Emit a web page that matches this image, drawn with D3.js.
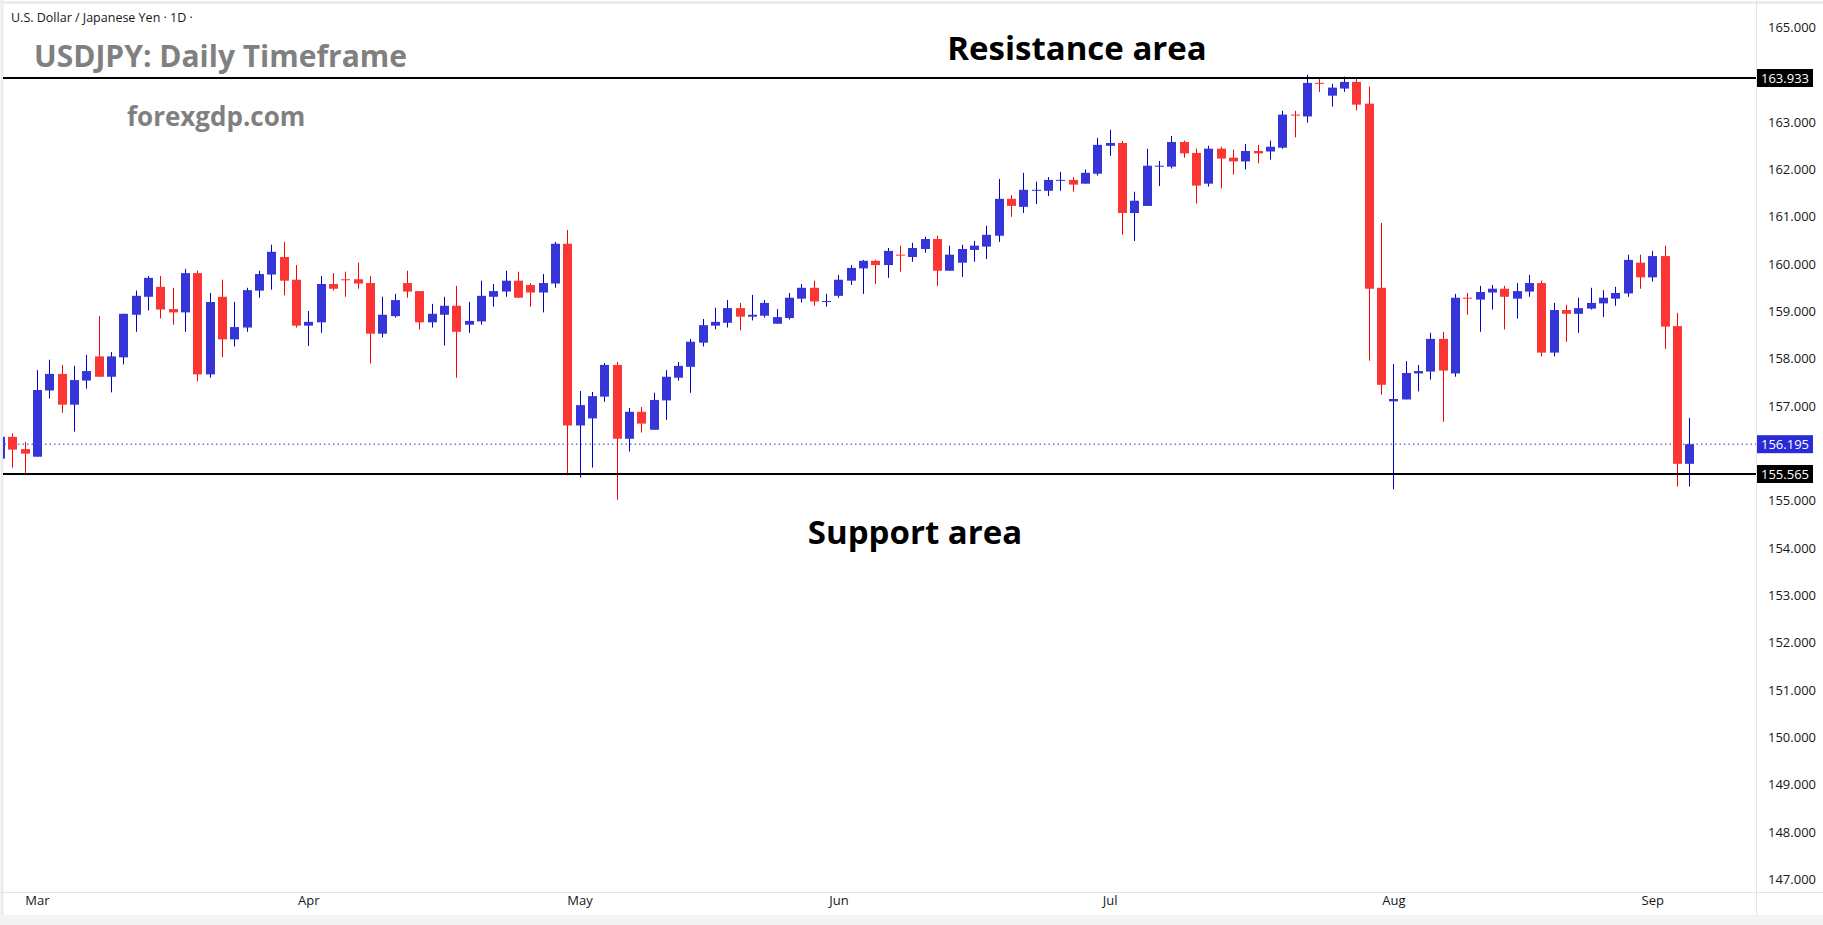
<!DOCTYPE html>
<html><head><meta charset="utf-8">
<script src="https://cdn.jsdelivr.net/npm/d3@7"></script>
<style>body{margin:0;background:#fff;}svg{display:block;font-family:"Open Sans",sans-serif;}</style>
</head><body><svg id="c" width="1823" height="925"></svg>
<script>
// OHLC [open, high, low, close], index -1 is the partially visible first candle
const opens =  [155.89,156.35,156.09,155.93,157.33,157.68,157.03,157.54,158.05,157.62,158.03,158.93,159.31,159.52,159.05,158.98,159.81,157.67,159.31,158.41,158.66,159.44,159.78,160.15,159.67,158.70,158.77,159.58,159.68,159.68,159.60,158.53,158.90,159.60,159.43,158.77,158.93,159.12,158.72,158.79,159.31,159.42,159.65,159.56,159.40,159.59,160.43,156.59,156.74,157.20,157.87,156.31,156.88,156.50,157.12,157.60,157.83,158.34,158.70,158.76,159.07,158.89,158.91,158.74,158.86,159.27,159.50,159.21,159.33,159.65,159.91,160.07,159.98,160.20,160.15,160.32,160.53,159.86,160.03,160.30,160.37,160.60,161.38,161.21,161.56,161.55,161.77,161.78,161.70,161.91,162.50,162.56,161.08,161.23,162.06,162.06,162.58,162.35,161.70,162.44,162.25,162.17,162.39,162.38,162.46,163.16,163.12,163.83,163.56,163.71,163.85,163.39,159.50,157.10,157.14,157.69,157.73,158.42,157.69,159.29,159.25,159.40,159.48,159.27,159.42,159.60,158.13,159.03,158.95,159.06,159.17,159.27,159.38,160.03,159.72,160.17,158.69,155.78];
const highs =  [156.40,156.425,156.24,157.76,157.98,157.87,157.85,158.08,158.90,158.14,158.95,159.44,159.75,159.75,159.50,159.90,159.86,159.39,159.67,159.20,159.50,159.86,160.41,160.47,159.98,159.01,159.75,159.81,159.84,160.03,159.75,159.31,159.37,159.86,159.43,159.16,159.31,159.54,159.20,159.65,159.58,159.86,159.84,159.60,159.79,160.47,160.72,157.32,157.30,157.91,157.93,156.96,156.98,157.28,157.76,157.93,158.42,158.84,159.08,159.24,159.18,159.35,159.24,159.05,159.39,159.58,159.65,159.37,159.77,159.98,160.09,160.09,160.34,160.39,160.45,160.58,160.60,160.39,160.41,160.49,160.81,161.80,161.46,161.93,161.74,161.84,161.95,161.84,162.00,162.67,162.84,162.60,161.53,162.44,162.18,162.71,162.61,162.44,162.50,162.48,162.42,162.54,162.52,162.61,163.24,163.24,164.00,163.94,163.81,163.96,163.92,163.75,160.87,157.89,157.95,157.87,158.55,158.57,159.37,159.39,159.54,159.56,159.54,159.60,159.77,159.65,159.18,159.14,159.29,159.50,159.45,159.52,160.20,160.20,160.28,160.39,158.97,156.75];
const lows =   [155.80,155.70,155.54,155.93,157.16,156.86,156.46,157.37,157.62,157.29,157.88,158.57,159.02,158.85,158.72,158.57,157.52,157.60,158.03,158.26,158.57,159.29,159.46,159.34,158.66,158.27,158.55,159.44,159.31,159.48,157.90,158.45,158.87,159.29,158.62,158.66,158.28,157.60,158.55,158.72,159.10,159.31,159.29,159.10,158.98,159.50,155.54,155.49,155.70,157.09,155.02,156.04,156.44,156.50,156.71,157.54,157.28,158.26,158.62,158.66,158.60,158.81,158.87,158.74,158.83,159.19,159.12,159.10,159.29,159.56,159.37,159.58,159.71,159.84,160.05,160.24,159.54,159.86,159.73,160.05,160.11,160.47,161.00,161.08,161.27,161.44,161.55,161.53,161.70,161.87,162.29,160.62,160.49,161.23,161.65,162.02,162.25,161.28,161.64,161.60,161.89,162.00,162.13,162.21,162.44,162.68,162.99,163.64,163.33,163.64,163.25,157.96,157.24,155.24,157.14,157.31,157.56,156.67,157.62,158.93,158.57,159.04,158.62,158.85,159.31,158.05,158.05,158.36,158.55,159.04,158.88,159.12,159.31,159.48,159.63,158.21,155.30,155.30];
const closes = [156.35,156.08,155.995,157.34,157.68,157.03,157.55,157.74,157.62,158.05,158.95,159.33,159.71,159.04,158.98,159.81,157.67,159.20,158.41,158.67,159.45,159.79,160.26,159.65,158.70,158.78,159.58,159.48,159.67,159.59,158.53,158.93,159.24,159.42,158.77,158.95,159.12,158.57,158.80,159.33,159.43,159.65,159.29,159.40,159.60,160.43,156.59,157.02,157.21,157.87,156.31,156.88,156.63,157.13,157.62,157.85,158.36,158.71,158.78,159.07,158.89,158.93,159.18,158.88,159.29,159.50,159.21,159.22,159.67,159.92,160.07,159.98,160.28,160.18,160.34,160.53,159.86,160.20,160.32,160.39,160.62,161.38,161.23,161.57,161.57,161.78,161.78,161.68,161.93,162.52,162.56,161.08,161.34,162.08,162.08,162.58,162.34,161.66,162.44,162.23,162.17,162.39,162.34,162.48,163.16,163.14,163.83,163.82,163.73,163.85,163.37,159.48,157.45,157.15,157.70,157.74,158.42,157.75,159.29,159.27,159.41,159.48,159.31,159.43,159.60,158.13,159.03,158.95,159.07,159.18,159.29,159.39,160.09,159.72,160.17,158.68,155.78,156.195];
const firstIndex = -1;
const months = [["Mar",2],["Apr",24],["May",46],["Jun",67],["Jul",89],["Aug",112],["Sep",133]];
const yTicks = [147,148,149,150,151,152,153,154,155,157,158,159,160,161,162,163,165];
const resistance = 163.933, support = 155.565, lastPrice = 156.195;

const svg = d3.select("#c");
const W = 1823, H = 925, plotR = 1756, plotB = 892;
const x = d3.scaleLinear().domain([0,136]).range([12.3,1689.3]);
const y = d3.scaleLinear().domain([support,resistance]).range([474,78]);
const data = opens.map((o,k)=>({i:k+firstIndex,o,h:highs[k],l:lows[k],c:closes[k]}));

svg.append("rect").attr("x",0).attr("y",0).attr("width",W).attr("height",H).attr("fill","#fff");
svg.append("rect").attr("x",0).attr("y",915).attr("width",W).attr("height",10).attr("fill","#f3f3f5");
svg.append("line").attr("x1",0).attr("x2",W).attr("y1",2.5).attr("y2",2.5).attr("stroke","#ececef").attr("stroke-width",3);
svg.append("line").attr("x1",2).attr("x2",2).attr("y1",0).attr("y2",915).attr("stroke","#ececef").attr("stroke-width",3);

const plot = svg.append("g");
plot.append("clipPath").attr("id","clip").append("rect").attr("x",3).attr("y",0).attr("width",plotR-3).attr("height",plotB);
const g = plot.append("g").attr("clip-path","url(#clip)");

g.append("line").attr("x1",0).attr("x2",plotR).attr("y1",y(lastPrice)).attr("y2",y(lastPrice))
  .attr("stroke","#2a2ad6").attr("stroke-width",1).attr("stroke-dasharray","1.5,3");

const up = "#3535d8", dn = "#fc3535";
data.forEach(d=>{
  const bull = d.c >= d.o;
  const cx = Math.round(x(d.i))+0.5;
  g.append("line").attr("x1",cx).attr("x2",cx).attr("y1",y(d.h)).attr("y2",y(d.l))
    .attr("stroke", bull?"#0000cc":"#f00").attr("stroke-width",1);
  const top = y(Math.max(d.o,d.c)), bot = y(Math.min(d.o,d.c));
  g.append("rect").attr("x",cx-4.5).attr("y",top).attr("width",9).attr("height",Math.max(1,bot-top))
    .attr("fill", bull?up:dn);
});

[resistance,support].forEach(v=>{
  svg.append("line").attr("x1",3).attr("x2",plotR).attr("y1",y(v)).attr("y2",y(v)).attr("stroke","#000").attr("stroke-width",2);
});

svg.append("line").attr("x1",plotR+0.5).attr("x2",plotR+0.5).attr("y1",0).attr("y2",915).attr("stroke","#e0e3eb");
svg.append("line").attr("x1",0).attr("x2",W).attr("y1",plotB+0.5).attr("y2",plotB+0.5).attr("stroke","#e0e3eb");

const yAxis = d3.axisRight(y).tickValues(yTicks).tickSize(0).tickPadding(0).tickFormat(d3.format(".3f"));
const ya = svg.append("g").attr("transform",`translate(${plotR+12},0)`).call(yAxis);
ya.select(".domain").remove();
ya.selectAll("text").attr("font-size",13).attr("fill","#131722").attr("font-family","'Open Sans',sans-serif");

const xAxis = d3.axisBottom(x).tickValues(months.map(m=>m[1])).tickSize(0).tickPadding(0)
  .tickFormat((d,k)=>months[k][0]);
const xa = svg.append("g").attr("transform",`translate(0,${plotB+1})`).call(xAxis);
xa.select(".domain").remove();
xa.selectAll("text").attr("font-size",13).attr("fill","#131722").attr("dy","0.95em").attr("font-family","'Open Sans',sans-serif");

function tag(v,bg){
  svg.append("rect").attr("x",plotR+1).attr("y",y(v)-9).attr("width",56).attr("height",18).attr("fill",bg);
  svg.append("text").attr("x",plotR+29).attr("y",y(v)).attr("dy","0.35em").attr("text-anchor","middle")
    .attr("fill","#fff").attr("font-size",13).text(v.toFixed(3));
}
tag(resistance,"#000"); tag(support,"#000"); tag(lastPrice,"#2a2ad6");

svg.append("text").attr("x",11).attr("y",22).attr("font-size",12.5).attr("fill","#131722").text("U.S. Dollar / Japanese Yen · 1D ·");
svg.append("text").attr("x",34).attr("y",67).attr("font-size",30).attr("font-weight",700).attr("fill","#808080").text("USDJPY: Daily Timeframe");
svg.append("text").attr("x",127).attr("y",126).attr("font-size",26).attr("font-weight",700).attr("fill","#808080").text("forexgdp.com");
svg.append("text").attr("x",1077).attr("y",60).attr("text-anchor","middle").attr("font-size",33).attr("font-weight",700).attr("fill","#000").text("Resistance area");
svg.append("text").attr("x",915).attr("y",544).attr("text-anchor","middle").attr("font-size",33).attr("font-weight",700).attr("fill","#000").text("Support area");
</script></body></html>
